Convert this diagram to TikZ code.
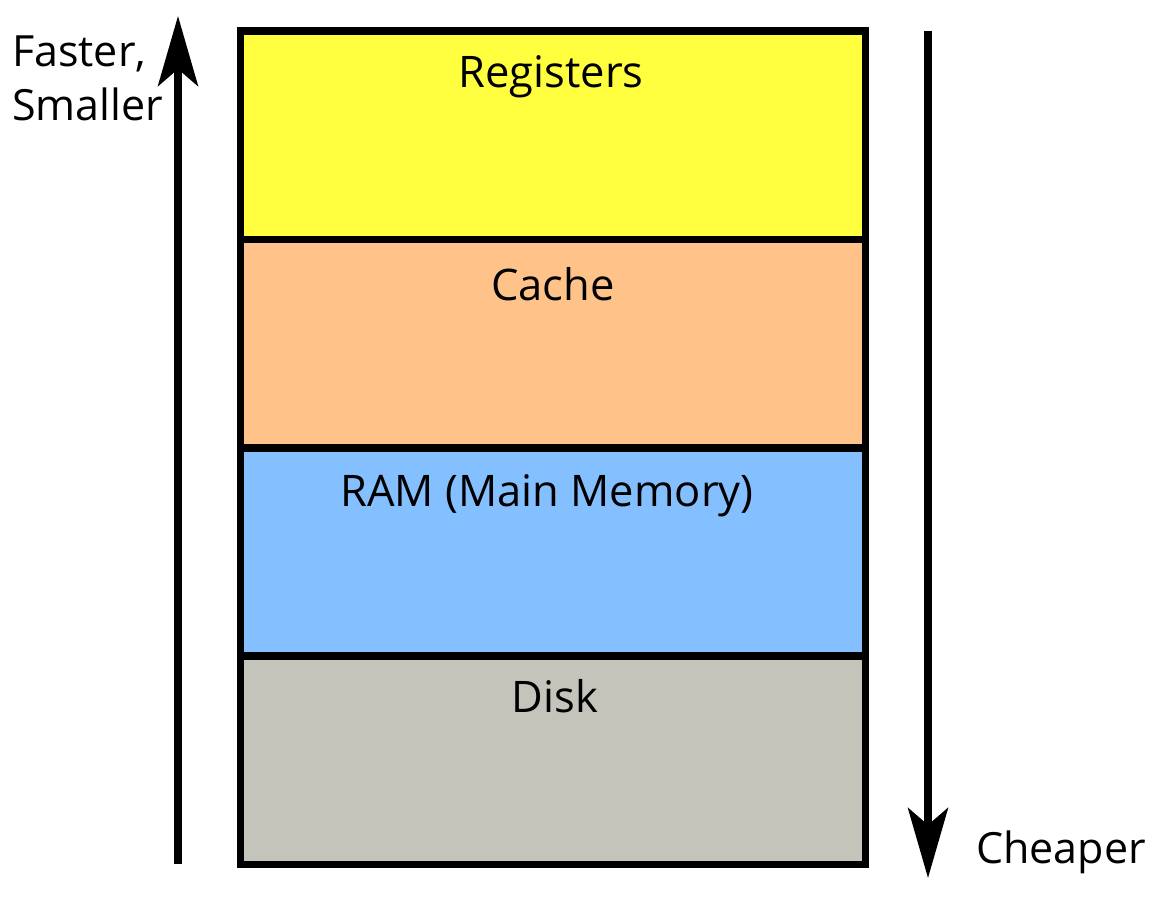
\documentclass[tikz,border=0pt]{standalone}
\usepackage{fontspec}
\setmainfont{Open Sans}
\usetikzlibrary{arrows.meta}
\definecolor{regcol}{HTML}{FFFF40}
\definecolor{cachecol}{HTML}{FFC38A}
\definecolor{ramcol}{HTML}{84BFFF}
\definecolor{diskcol}{HTML}{C4C4BB}
\tikzset{
  level/.style={draw=black, line width=7.5pt},
  lbl/.style={anchor=base, inner sep=0pt, font=\fontsize{43.5}{50}\selectfont},
  side/.style={anchor=base west, inner sep=0pt, font=\fontsize{43}{50}\selectfont},
  bigarrow/.style={line width=7.5pt, -{Stealth[length=70pt,width=40pt,inset=17pt]}}
}
\begin{document}
\begin{tikzpicture}[x=1pt,y=-1pt]
\useasboundingbox (0,0) rectangle (1158,896);
\fill[white] (0,0) rectangle (1158,896);
\filldraw[level, fill=regcol] (240.5,31) rectangle (865.5,239.5);
\filldraw[level, fill=cachecol] (240.5,239.5) rectangle (865.5,448);
\filldraw[level, fill=ramcol] (240.5,448) rectangle (865.5,656);
\filldraw[level, fill=diskcol] (240.5,656) rectangle (865.5,864.5);
\node[lbl] (reg) at (551,88) {Registers};
\node[lbl] (cache) at (553,300) {Cache};
\node[lbl] (ram) at (547,506) {RAM (Main Memory)};
\node[lbl] (disk) at (555,712) {Disk};
\coordinate (lb) at (178,864);
\coordinate (lt) at (178,16);
\coordinate (rt) at (928,31);
\coordinate (rb) at (928,878);
\draw[bigarrow] (lb) -- (lt);
\draw[bigarrow] (rt) -- (rb);
\node[side] (fast) at (12,67) {Faster,};
\node[side] (small) at (12,121) {Smaller};
\node[side] (cheap) at (976,863) {Cheaper};
\end{tikzpicture}
\end{document}
